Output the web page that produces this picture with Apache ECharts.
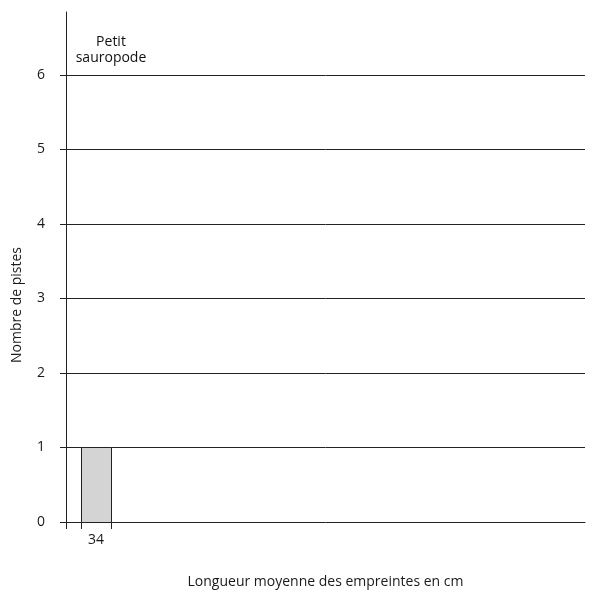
<!DOCTYPE html>
<html><head><meta charset="utf-8">
<script src="https://cdn.jsdelivr.net/npm/echarts@6/dist/echarts.min.js"></script>
<style>html,body{margin:0;padding:0;background:#fff}#c{width:597px;height:594px}</style>
</head><body><div id="c"></div>
<script>
const categories = ["Petit\nsauropode"];
const binStart = [33];
const binEnd = [35];
const binCenter = [34];
const counts = [1];
const yTicks = [0, 1, 2, 3, 4, 5, 6];
const xTickLabels = [34];

const chart = echarts.init(document.getElementById('c'));
const data = counts.map((c, i) => [binStart[i], binEnd[i], c, categories[i]]);
const font = '"Open Sans", "Noto Sans", sans-serif';
chart.setOption({
  animation: false,
  grid: { left: 66, right: 12, top: 12, bottom: 64, containLabel: false },
  xAxis: {
    type: 'value', min: 32, max: 66.6,
    name: 'Longueur moyenne des empreintes en cm',
    nameLocation: 'middle', nameGap: 53,
    nameTextStyle: { color: '#1a1a1a', fontSize: 14, fontFamily: font },
    axisLine: { show: true, onZero: false, lineStyle: { color: '#222', width: 1 } },
    axisTick: { show: true, length: 7, inside: false, customValues: [32].concat(binStart, binEnd), lineStyle: { color: '#222' } },
    axisLabel: { show: true, customValues: xTickLabels, margin: 11, color: '#1a1a1a', fontSize: 14, fontFamily: font },
    splitLine: { show: false }
  },
  yAxis: {
    type: 'value', min: 0, max: 6.845, interval: 1,
    axisLine: { show: true, lineStyle: { color: '#222', width: 1 } },
    axisTick: { show: true, length: 6, customValues: yTicks, lineStyle: { color: '#222' } },
    axisLabel: { customValues: yTicks, margin: 21, color: '#1a1a1a', fontSize: 14, fontFamily: font },
    splitLine: { show: true, showMinLine: false, showMaxLine: true, lineStyle: { color: '#222', width: 1 } }
  },
  graphic: [{
    type: 'text', x: 17, y: 305, rotation: Math.PI / 2,
    style: { text: 'Nombre de pistes', fill: '#1a1a1a', font: '14px ' + font, textAlign: 'center', textVerticalAlign: 'middle' }
  }],
  series: [{
    type: 'custom',
    data: data,
    renderItem: function (params, api) {
      const p0 = api.coord([api.value(0), api.value(2)]);
      const p1 = api.coord([api.value(1), 0]);
      const cs = params.coordSys;
      const name = categories[params.dataIndex];
      return {
        type: 'group',
        children: [{
          type: 'rect',
          shape: { x: Math.round(p0[0]) + 0.5, y: Math.round(p0[1]) + 0.5, width: Math.round(p1[0] - p0[0]), height: Math.round(p1[1] - p0[1]) },
          style: { fill: '#d4d4d4', stroke: '#222', lineWidth: 1 }
        }, {
          type: 'text',
          x: p1[0], y: cs.y + 38,
          style: { text: name, fill: '#111', font: '14px ' + font, textAlign: 'center', textVerticalAlign: 'middle', lineHeight: 16 }
        }]
      };
    }
  }]
});
</script></body></html>
